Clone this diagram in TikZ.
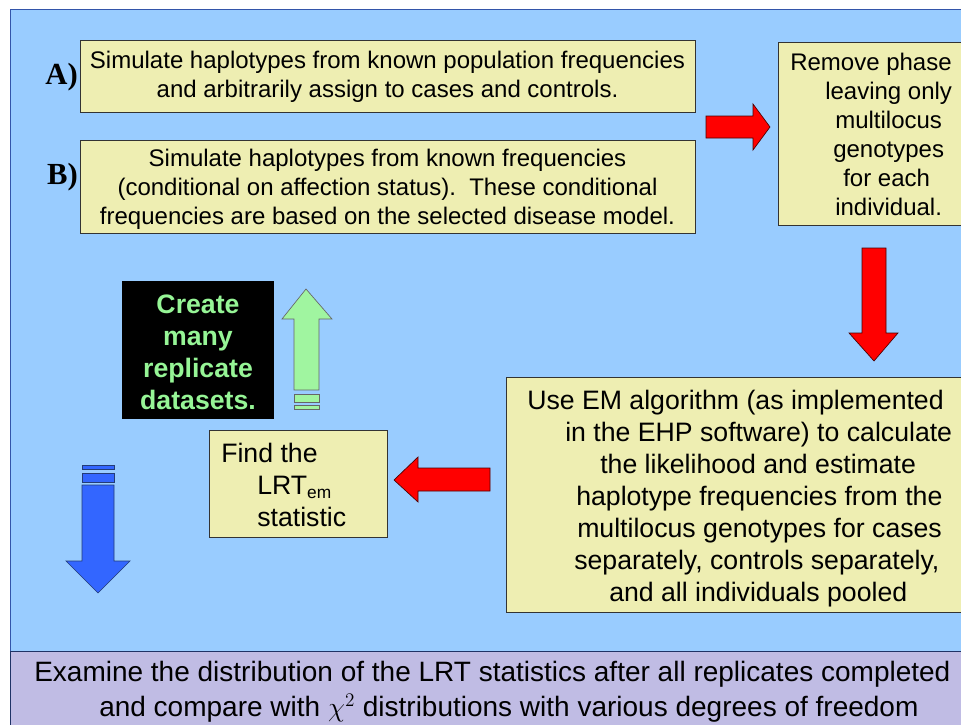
\documentclass[tikz,border=0pt]{standalone}
\usepackage{fontspec}
\setmainfont{Liberation Sans}
\newfontfamily\timesfont{Liberation Serif}
\newlength\px
\setlength\px{0.75pt}
\definecolor{bgblue}{RGB}{153,204,255}
\definecolor{bandpurple}{RGB}{192,188,228}
\definecolor{boxyellow}{RGB}{238,238,178}
\definecolor{arrowgreen}{RGB}{160,245,160}
\definecolor{textgreen}{RGB}{150,245,150}
\definecolor{arrowblue}{RGB}{51,102,255}
\definecolor{edgeblue}{RGB}{51,85,170}
\tikzset{
  box/.style={draw=black!80, line width=0.6pt, fill=boxyellow, anchor=north west, inner sep=0pt},
  txt/.style={inner sep=0pt, text=black},
  redarrow/.style={fill=red, draw=black!70!red, line width=0.5pt},
  greenarrow/.style={fill=arrowgreen, draw=black!60, line width=0.5pt},
  bluearrow/.style={fill=arrowblue, draw=edgeblue!70!black, line width=0.5pt},
  lab/.style={inner sep=0pt, anchor=east, font=\timesfont\bfseries\fontsize{23}{26}\selectfont},
}
\begin{document}
\begin{tikzpicture}[x=0.75pt, y=-0.75pt]
\clip (0,0) rectangle (961,725);
\fill[white] (0,0) rectangle (961,725);
% background regions
\fill[bgblue] (10,9) rectangle (975,651);
\draw[edgeblue, line width=0.6pt] (10,660) -- (10,9) -- (975,9);
\fill[bandpurple] (10,651) rectangle (975,740);
\draw[edgeblue!60!black, line width=0.6pt] (10,740) -- (10,651) -- (975,651);

% box A
\node[box, minimum width=615\px, minimum height=72\px] (boxA) at (80,40) {};
\node[txt, align=center, font=\fontsize{18}{21.75}\selectfont] (txtA) at (387.5,77)
  {Simulate haplotypes from known population frequencies\\and arbitrarily assign to cases and controls.};
\node[lab] (labA) at (78,77) {A)};

% box B
\node[box, minimum width=615\px, minimum height=93\px] (boxB) at (80,140) {};
\node[txt, align=center, font=\fontsize{18}{21.75}\selectfont] (txtB) at (387.5,189)
  {Simulate haplotypes from known frequencies\\(conditional on affection status).\ \ These conditional\\frequencies are based on the selected disease model.};
\node[lab] (labB) at (78,177) {B)};

% remove phase box
\node[box, minimum width=200\px, minimum height=183\px] (boxR) at (778,42) {};
\node[txt, anchor=west, align=left, font=\fontsize{18}{21.75}\selectfont] (txtR) at (790,134)
  {Remove phase\\\hspace*{35\px}leaving only\\\hspace*{45\px}multilocus\\\hspace*{43\px}genotypes\\\hspace*{53\px}for each\\\hspace*{45\px}individual.};

% EM box
\node[box, minimum width=470\px, minimum height=235\px] (boxE) at (506,377) {};
\node[txt, anchor=west, align=left, font=\fontsize{20}{24}\selectfont] (txtE) at (527,499)
  {Use EM algorithm (as implemented\\\hspace*{38\px}in the EHP software) to calculate\\\hspace*{73\px}the likelihood and estimate\\\hspace*{49\px}haplotype frequencies from the\\\hspace*{50\px}multilocus genotypes for cases\\\hspace*{47\px}separately, controls separately,\\\hspace*{82\px}and all individuals pooled};

% find LRT box
\node[box, minimum width=178\px, minimum height=107\px] (boxF) at (209,430) {};
\node[txt, anchor=west, align=left, font=\fontsize{20}{24}\selectfont] (txtF) at (221,485)
  {Find the\\\hspace*{36\px}LRT\raisebox{-3pt}{\fontsize{13}{14}\selectfont em}\\\hspace*{36\px}statistic};

% black box
\node[fill=black, anchor=north west, inner sep=0pt, minimum width=152\px, minimum height=138\px] (boxC) at (122,281) {};
\node[txt, text=textgreen, align=center, font=\bfseries\fontsize{20}{24}\selectfont] (txtC) at (198,352)
  {Create\\many\\replicate\\datasets.};

% bottom text
\node[txt, anchor=west, align=left, font=\fontsize{21}{26.25}\selectfont] (txtX) at (34,692)
  {Examine the distribution of the LRT statistics after all replicates completed\\\hspace*{65\px}and compare with $\chi^2$ distributions with various degrees of freedom};

% red right arrow
\draw[redarrow] (706,116) -- (753,116) -- (753,104) -- (770,127) -- (753,150) -- (753,138) -- (706,138) -- cycle;
% red down arrow
\draw[redarrow] (862,248) -- (886,248) -- (886,333) -- (898,333) -- (874,361) -- (849,333) -- (862,333) -- cycle;
% red left arrow
\draw[redarrow] (490,468) -- (418,468) -- (418,457) -- (394,480) -- (418,502) -- (418,491) -- (490,491) -- cycle;
% green up arrow
\draw[greenarrow] (294,390) -- (294,319) -- (282,319) -- (306,289) -- (332,319) -- (319,319) -- (319,390) -- cycle;
\draw[greenarrow] (294,394) rectangle (319,402);
\draw[greenarrow] (294,405) rectangle (319,409);
% blue down arrow
\draw[bluearrow] (82,465) rectangle (114,469);
\draw[bluearrow] (82,473) rectangle (114,482);
\draw[bluearrow] (82,485) -- (114,485) -- (114,561) -- (130,561) -- (98,593) -- (66,561) -- (82,561) -- cycle;
\end{tikzpicture}
\end{document}
